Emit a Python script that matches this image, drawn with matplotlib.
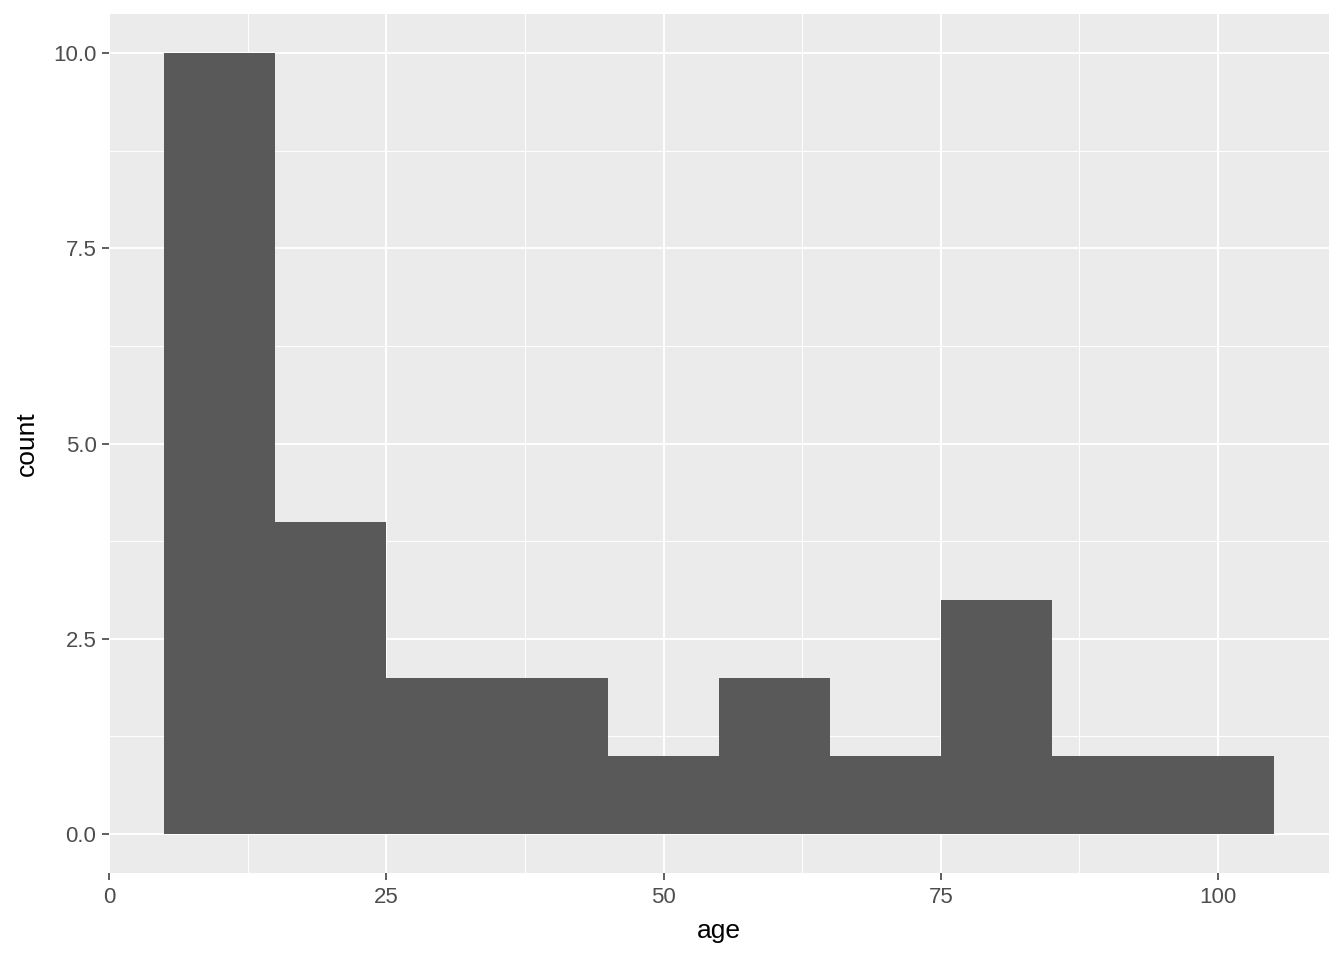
import matplotlib
matplotlib.use("Agg")
import matplotlib.pyplot as plt
import numpy as np

# histogram of age, binwidth 10
bin_edges = [5, 15, 25, 35, 45, 55, 65, 75, 85, 95, 105]
counts = [10, 4, 2, 2, 1, 2, 1, 3, 1, 1]
x_ticks = [0, 25, 50, 75, 100]
y_ticks = [0.0, 2.5, 5.0, 7.5, 10.0]

plt.rcParams["font.family"] = ["Liberation Sans", "DejaVu Sans"]

fig = plt.figure(figsize=(13.44, 9.6), dpi=100)
ax = fig.add_axes([109 / 1344, 1 - 873 / 960, (1329 - 109) / 1344, (873 - 14) / 960])
ax.set_facecolor("#EBEBEB")

lefts = np.array(bin_edges[:-1])
widths = np.diff(bin_edges)
ax.bar(lefts, counts, width=widths, align="edge", color="#595959", linewidth=0, zorder=3)

ax.set_xlim(0, 110)
ax.set_ylim(-0.5, 10.5)
ax.set_xticks(x_ticks)
ax.set_xticklabels([str(t) for t in x_ticks])
ax.set_yticks(y_ticks)
ax.set_yticklabels([f"{t:.1f}" for t in y_ticks])
ax.set_xticks([12.5, 37.5, 62.5, 87.5], minor=True)
ax.set_yticks([1.25, 3.75, 6.25, 8.75], minor=True)

ax.grid(which="major", color="white", linewidth=1.4, zorder=1)
ax.grid(which="minor", color="white", linewidth=0.7, zorder=1)
ax.set_axisbelow(True)
for s in ax.spines.values():
    s.set_visible(False)

ax.tick_params(which="major", length=5, width=1.1, color="#333333",
               labelsize=16, labelcolor="#4D4D4D", pad=5)
ax.tick_params(axis="y", pad=4)
ax.tick_params(which="minor", length=0)

ax.set_xlabel("age", fontsize=19, color="black", labelpad=8)
ax.set_ylabel("count", fontsize=19, color="black", labelpad=10)

fig.savefig("out.png", dpi=100)
